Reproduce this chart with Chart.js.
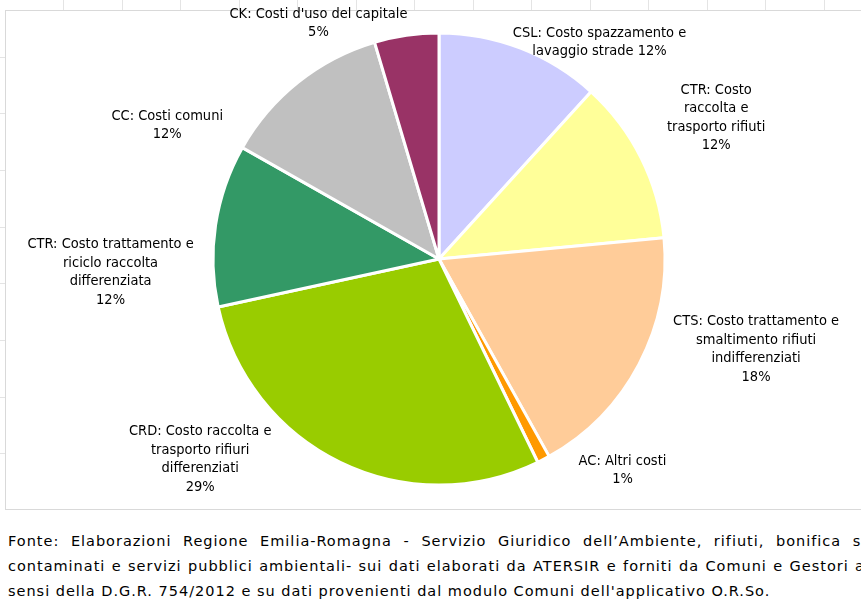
<!DOCTYPE html>
<html>
<head>
<meta charset="utf-8">
<script src="https://cdn.jsdelivr.net/npm/chart.js@4/dist/chart.umd.min.js"></script>
<style>
  html, body { margin:0; padding:0; background:#fff; }
  body { width:861px; height:610px; position:relative; overflow:hidden; font-family:"DejaVu Sans Condensed",sans-serif; }
  #stubs { position:absolute; left:0; top:0; width:861px; height:10px; }
  #stubs i { position:absolute; top:0; width:1px; height:10px; background:#e4e4e4; }
  #lstubs i { position:absolute; left:0; width:5px; height:1px; background:#e4e4e4; }
  #frame { position:absolute; left:5px; top:10px; width:880px; height:500px; border:1.5px solid #d9d9d9; box-sizing:border-box; background:#fff; }
  #wrap { position:absolute; left:0; top:0; width:861px; height:510px; }
  #note { position:absolute; left:8px; top:529px; font-family:"DejaVu Sans",sans-serif; font-size:14.5px; line-height:25px; color:#000; letter-spacing:0.98px; }
  #note div { white-space:nowrap; }
  #note .j { text-align:justify; text-align-last:justify; white-space:normal; }
</style>
</head>
<body>
<div id="stubs"></div>
<div id="lstubs"></div>
<div id="frame"></div>
<div id="wrap"><canvas id="c"></canvas></div>
<div id="note">
  <div class="j" style="width:870px">Fonte: Elaborazioni Regione Emilia-Romagna - Servizio Giuridico dell’Ambiente, rifiuti, bonifica siti</div>
  <div class="j" style="width:862px">contaminati e servizi pubblici ambientali- sui dati elaborati da ATERSIR e  forniti da Comuni e Gestori ai</div>
  <div>sensi della D.G.R. 754/2012 e su dati provenienti dal modulo Comuni dell'applicativo O.R.So.</div>
</div>
<script>
// faint spreadsheet cell lines around the chart object
const st = document.getElementById('stubs');
for (let x = 63; x < 861; x += 58.5) { const e = document.createElement('i'); e.style.left = Math.round(x) + 'px'; st.appendChild(e); }
const ls = document.getElementById('lstubs');
[57, 113, 170, 227, 283, 340, 397, 453].forEach(y => { const e = document.createElement('i'); e.style.top = y + 'px'; ls.appendChild(e); });

// cost shares, clockwise from 12 o'clock
const categories = [
  'CSL: Costo spazzamento e|lavaggio strade {p}',
  'CTR: Costo|raccolta e|trasporto rifiuti|{p}',
  'CTS: Costo trattamento e|smaltimento rifiuti|indifferenziati|{p}',
  'AC: Altri costi|{p}',
  'CRD: Costo raccolta e|trasporto rifiuri|differenziati|{p}',
  'CTR: Costo trattamento e|riciclo raccolta|differenziata|{p}',
  'CC: Costi comuni|{p}',
  "CK: Costi d'uso del capitale|{p}"
];
const values = [11.75, 11.75, 18.4, 0.9, 28.8, 11.6, 12.2, 4.6];
const colors = ['#CCCCFF', '#FFFF99', '#FFCC99', '#FF9900', '#99CC00', '#339966', '#C0C0C0', '#993366'];
// label shift from the outer midpoint of each slice
const labelShift = [[79,-6],[75,-40],[117,-15],[79,11],[-140,-3],[-105,47],[-131,43],[-88,-12]];

const total = values.reduce((a,b)=>a+b, 0);

const outLabels = {
  id: 'outLabels',
  afterDatasetsDraw(chart) {
    const ctx = chart.ctx;
    const meta = chart.getDatasetMeta(0);
    ctx.save();
    ctx.font = '14.5px "DejaVu Sans Condensed", sans-serif';
    ctx.fillStyle = '#000';
    ctx.textAlign = 'center';
    ctx.textBaseline = 'middle';
    const lh = 18.5;
    meta.data.forEach((arc, i) => {
      const p = arc.getProps(['x','y','startAngle','endAngle','outerRadius'], true);
      const mid = (p.startAngle + p.endAngle) / 2;
      const ax = p.x + Math.cos(mid) * p.outerRadius + labelShift[i][0];
      const ay = p.y + Math.sin(mid) * p.outerRadius + labelShift[i][1];
      const pct = Math.round(values[i] / total * 100) + '%';
      const lines = categories[i].replace('{p}', pct).split('|');
      const top = ay - (lines.length - 1) * lh / 2;
      lines.forEach((t, k) => ctx.fillText(t, ax, top + k * lh));
    });
    ctx.restore();
  }
};

new Chart(document.getElementById('c').getContext('2d'), {
  type: 'pie',
  data: {
    labels: categories,
    datasets: [{ data: values, backgroundColor: colors, borderColor: '#fff', borderWidth: 3 }]
  },
  options: {
    responsive: true, maintainAspectRatio: false,
    animation: false,
    layout: { padding: { left: 17, right: 0, top: 31.5, bottom: 23.5 } },
    plugins: { legend: { display: false }, tooltip: { enabled: false } }
  },
  plugins: [outLabels]
});
</script>
</body>
</html>
